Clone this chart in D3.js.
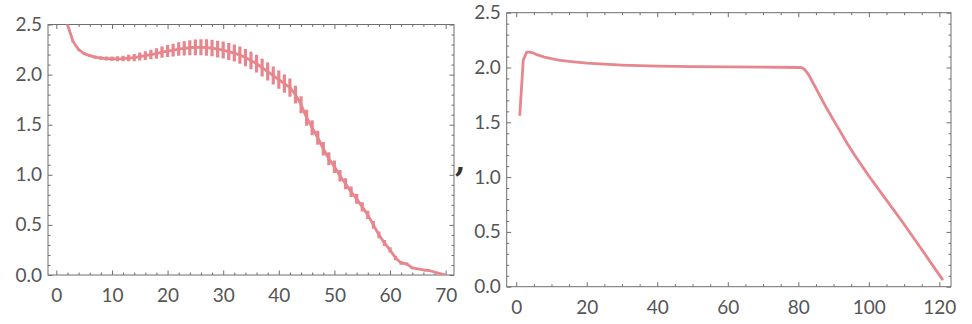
<!DOCTYPE html>
<html>
<head>
<meta charset="utf-8">
<script src="https://cdn.jsdelivr.net/npm/d3@7"></script>
<style>
  body { margin: 0; background: #fff; }
  svg { display: block; }
  .tk text { font-family: Lato, "Open Sans", sans-serif; font-size: 19px; fill: #555; }
  .tk path { display: none; }
  .tk line { stroke: #6e6e6e; stroke-width: 1; }
</style>
</head>
<body>
<div id="chart"></div>
<script>
// left panel: mean with error bars, sampled at every integer step
var leftX = [2,3,4,5,6,7,8,9,10,11,12,13,14,15,16,17,18,19,20,21,22,23,24,25,26,27,28,29,30,
  31,32,33,34,35,36,37,38,39,40,41,42,43,44,45,46,47,48,49,50,51,52,53,54,55,56,57,58,59,60,
  61,62,63,64,65,66,67,68,69,70];
var leftMean = [2.50,2.33,2.25,2.21,2.19,2.175,2.165,2.16,2.158,2.157,2.16,2.165,2.17,2.18,2.19,
  2.20,2.21,2.225,2.235,2.245,2.255,2.262,2.268,2.272,2.272,2.27,2.265,2.255,2.245,
  2.23,2.215,2.195,2.17,2.14,2.11,2.07,2.03,1.99,1.95,1.91,1.87,1.80,1.70,1.57,1.47,1.37,1.26,
  1.16,1.08,0.99,0.91,0.83,0.76,0.68,0.60,0.50,0.40,0.32,0.25,0.17,0.12,0.11,0.07,0.06,0.05,
  0.045,0.03,0.015,0.0];
var leftErr = [0.005,0.008,0.01,0.012,0.014,0.016,0.018,0.02,0.022,0.025,0.028,0.032,0.036,0.04,
  0.044,0.048,0.052,0.056,0.06,0.064,0.068,0.072,0.075,0.078,0.08,0.082,0.083,0.084,0.085,
  0.085,0.085,0.086,0.086,0.087,0.088,0.088,0.09,0.09,0.092,0.09,0.09,0.088,0.085,0.08,0.075,
  0.07,0.068,0.065,0.062,0.058,0.055,0.052,0.05,0.046,0.042,0.038,0.034,0.03,0.026,0.022,0.018,
  0.015,0.012,0.01,0.008,0.006,0.004,0.003,0.002];

// right panel: single curve
var rightX = [1,2,3,4,5,6,8,10,12,15,20,25,30,40,50,60,70,80,81,82,83,84,86,88,90,92,94,96,
  100,105,110,115,121];
var rightY = [1.56,2.07,2.14,2.14,2.13,2.115,2.095,2.08,2.068,2.055,2.04,2.03,2.022,2.013,2.008,
  2.005,2.003,2.0,1.998,1.975,1.93,1.87,1.75,1.63,1.52,1.41,1.30,1.20,1.01,0.79,0.57,0.34,0.06];

var yTicks = [0,0.5,1,1.5,2,2.5];
var leftXTicks = [0,10,20,30,40,50,60,70];
var rightXTicks = [0,20,40,60,80,100,120];

var lineColor = "#e8868d";

var svg = d3.select("#chart").append("svg")
  .attr("width", 972).attr("height", 324);

function minorRange(a, b, step) {
  var out = [];
  for (var v = a; v <= b + 1e-9; v += step) out.push(+v.toFixed(4));
  return out;
}

function frame(x, y, xMajor, xMinorStep, id) {
  var g = svg.append("g");
  var x0 = x.range()[0], x1 = x.range()[1], y0 = y.range()[0], y1 = y.range()[1];
  var xMinor = minorRange(0, x.domain()[1], xMinorStep).filter(function(v){ return xMajor.indexOf(v) < 0; });
  var yMinor = minorRange(0, 2.5, 0.1).filter(function(v){ return Math.abs(v*2 - Math.round(v*2)) > 1e-6; });

  // ticks point inward, labels only on bottom and left
  g.append("g").attr("class", "tk").attr("transform", "translate(0," + y0 + ")")
    .call(d3.axisBottom(x).tickValues(xMajor).tickSize(-4.5).tickPadding(14).tickFormat(d3.format("d")));
  g.append("g").attr("class", "tk").attr("transform", "translate(0," + y0 + ")")
    .call(d3.axisBottom(x).tickValues(xMinor).tickSize(-2.5).tickFormat(""));
  g.append("g").attr("class", "tk").attr("transform", "translate(0," + y1 + ")")
    .call(d3.axisTop(x).tickValues(xMajor).tickSize(-4.5).tickFormat(""));
  g.append("g").attr("class", "tk").attr("transform", "translate(0," + y1 + ")")
    .call(d3.axisTop(x).tickValues(xMinor).tickSize(-2.5).tickFormat(""));

  g.append("g").attr("class", "tk").attr("transform", "translate(" + x0 + ",0)")
    .call(d3.axisLeft(y).tickValues(yTicks).tickSize(-4.5).tickPadding(6).tickFormat(d3.format(".1f")));
  g.append("g").attr("class", "tk").attr("transform", "translate(" + x0 + ",0)")
    .call(d3.axisLeft(y).tickValues(yMinor).tickSize(-2.5).tickFormat(""));
  g.append("g").attr("class", "tk").attr("transform", "translate(" + x1 + ",0)")
    .call(d3.axisRight(y).tickValues(yTicks).tickSize(-4.5).tickFormat(""));
  g.append("g").attr("class", "tk").attr("transform", "translate(" + x1 + ",0)")
    .call(d3.axisRight(y).tickValues(yMinor).tickSize(-2.5).tickFormat(""));

  g.append("rect")
    .attr("x", x0).attr("y", y1).attr("width", x1 - x0).attr("height", y0 - y1)
    .attr("fill", "none").attr("stroke", "#6e6e6e").attr("stroke-width", 1);

  svg.append("clipPath").attr("id", id)
    .append("rect").attr("x", x0).attr("y", y1).attr("width", x1 - x0).attr("height", y0 - y1);
}

// ---- left plot
var xL = d3.scaleLinear().domain([-1.5, 71.5]).range([48, 454]);
var yL = d3.scaleLinear().domain([0, 2.5]).range([275, 24.5]);
frame(xL, yL, leftXTicks, 2, "clipL");

var leftData = leftX.map(function(d, i) { return {x: d, m: leftMean[i], e: leftErr[i]}; });
var plotL = svg.append("g").attr("clip-path", "url(#clipL)");

plotL.selectAll("line.err")
  .data(leftData)
  .enter().append("line")
  .attr("class", "err")
  .attr("x1", function(d) { return xL(d.x); })
  .attr("x2", function(d) { return xL(d.x); })
  .attr("y1", function(d) { return yL(d.m - d.e); })
  .attr("y2", function(d) { return yL(d.m + d.e); })
  .attr("stroke", lineColor)
  .attr("stroke-width", 3.2);

plotL.append("path")
  .datum(leftData)
  .attr("d", d3.line().x(function(d) { return xL(d.x); }).y(function(d) { return yL(d.m); }))
  .attr("fill", "none")
  .attr("stroke", lineColor)
  .attr("stroke-width", 2.8)
  .attr("stroke-linejoin", "round");

// ---- right plot
var xR = d3.scaleLinear().domain([-2.7, 123.3]).range([506.7, 951]);
var yR = d3.scaleLinear().domain([0, 2.5]).range([286.7, 12.7]);
frame(xR, yR, rightXTicks, 5, "clipR");

var rightData = rightX.map(function(d, i) { return {x: d, y: rightY[i]}; });
svg.append("g").attr("clip-path", "url(#clipR)")
  .append("path")
  .datum(rightData)
  .attr("d", d3.line().x(function(d) { return xR(d.x); }).y(function(d) { return yR(d.y); }))
  .attr("fill", "none")
  .attr("stroke", lineColor)
  .attr("stroke-width", 2.8)
  .attr("stroke-linejoin", "round");

// list separator between the two graphics
svg.append("text")
  .attr("x", 455).attr("y", 172)
  .attr("font-family", "DejaVu Serif, serif")
  .attr("font-weight", "bold")
  .attr("font-size", "30px")
  .attr("fill", "#333")
  .text(",");
</script>
</body>
</html>
